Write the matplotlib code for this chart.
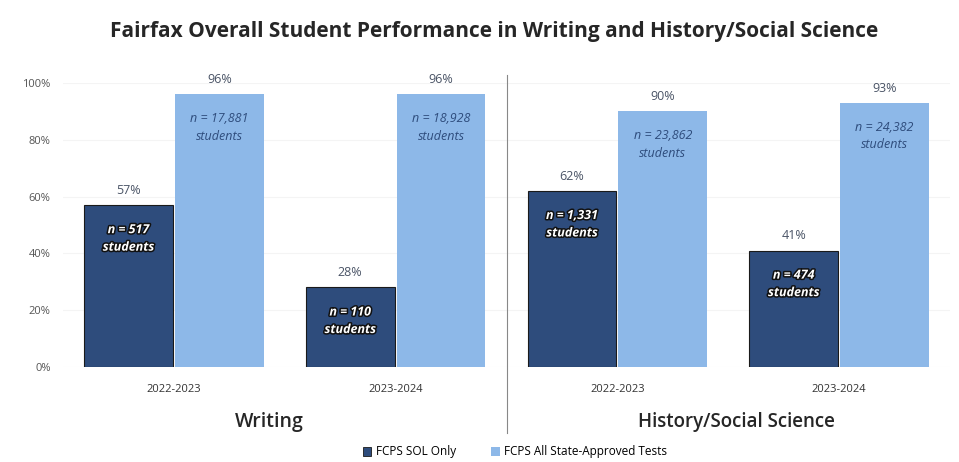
import matplotlib
matplotlib.use("Agg")
import matplotlib.pyplot as plt
import matplotlib.patheffects as pe
from matplotlib.patches import Patch
import numpy as np

plt.rcParams['font.family'] = ['Open Sans', 'DejaVu Sans']

title = "Fairfax Overall Student Performance in Writing and History/Social Science"
years = ["2022-2023", "2023-2024", "2022-2023", "2023-2024"]
subjects = ["Writing", "History/Social Science"]
sol_only = [0.57, 0.28, 0.62, 0.41]
all_tests = [0.96, 0.96, 0.90, 0.93]
sol_n = ["517", "110", "1,331", "474"]
all_n = ["17,881", "18,928", "23,862", "24,382"]
series_names = ["FCPS SOL Only", "FCPS All State-Approved Tests"]
yticks = [0, 0.2, 0.4, 0.6, 0.8, 1.0]

dark = "#2E4C7C"
light = "#8DB8E8"
pct_color = "#4A5466"

fig = plt.figure(figsize=(9.59, 4.62), dpi=100)
ax = fig.add_axes([63/959, 95/462, 887/959, 284/462])

x = np.arange(len(years))
w = 0.40
off = 0.205
b1 = ax.bar(x - off, sol_only, w, color=dark, edgecolor="#1a1a1a", linewidth=0.8, zorder=3)
b2 = ax.bar(x + off, all_tests, w, color=light, edgecolor="none", zorder=3)

ax.set_xlim(-0.5, 3.5)
ax.set_ylim(0, 1.0)
ax.set_yticks(yticks)
ax.set_yticklabels([f"{int(round(t*100))}%" for t in yticks], fontsize=8, color="#555555")
ax.set_xticks(x)
ax.set_xticklabels(years, fontsize=8, color="#333333")
ax.tick_params(axis="both", length=0)
ax.tick_params(axis="y", pad=9)
ax.tick_params(axis="x", pad=12)
for s in ax.spines.values():
    s.set_visible(False)
ax.yaxis.grid(True, color="#f4f4f4", linewidth=0.8, zorder=0)
ax.set_axisbelow(True)

outline = [pe.withStroke(linewidth=2.2, foreground="#111111")]
for i in range(len(years)):
    # percent labels
    ax.annotate(f"{int(round(sol_only[i]*100))}%", (x[i] - off, sol_only[i]),
                xytext=(0, 6), textcoords="offset points", ha="center", va="bottom",
                fontsize=9, color=pct_color)
    ax.annotate(f"{int(round(all_tests[i]*100))}%", (x[i] + off, all_tests[i]),
                xytext=(0, 6), textcoords="offset points", ha="center", va="bottom",
                fontsize=9, color=pct_color)
    # n labels
    ax.annotate(f"n = {sol_n[i]}\nstudents", (x[i] - off, sol_only[i]),
                xytext=(0, -13), textcoords="offset points", ha="center", va="top",
                fontsize=9, color="white", fontweight="bold", style="italic",
                linespacing=1.45, path_effects=outline)
    ax.annotate(f"n = {all_n[i]}\nstudents", (x[i] + off, all_tests[i]),
                xytext=(0, -13), textcoords="offset points", ha="center", va="top",
                fontsize=9, color="#2E4C7C", style="italic", linespacing=1.45)

# separator between subject panels
ax.axvline(1.5, ymin=-0.232, ymax=1.028, color="#888888", linewidth=0.8, clip_on=False)

# subject labels
ax.text(0.43, -0.195, subjects[0], transform=ax.get_xaxis_transform(), ha="center", va="center",
        fontsize=14, fontweight="semibold", color="#262626")
ax.text(2.535, -0.195, subjects[1], transform=ax.get_xaxis_transform(), ha="center", va="center",
        fontsize=13.5, fontweight="semibold", color="#262626")

fig.text(494/959, 1 - 31/462, title, ha="center", va="center", fontsize=15,
         fontweight="bold", color="#262626")

handles = [Patch(facecolor=dark, edgecolor="#1a1a1a", linewidth=0.6),
           Patch(facecolor=light, edgecolor="none")]
fig.legend(handles, series_names, loc="center", bbox_to_anchor=(515/959, 1 - 452/462),
           ncol=2, frameon=False, fontsize=8.5, handlelength=0.7, handleheight=0.7,
           handletextpad=0.4, columnspacing=3.0)

fig.savefig("out.png", dpi=100, facecolor="white")
